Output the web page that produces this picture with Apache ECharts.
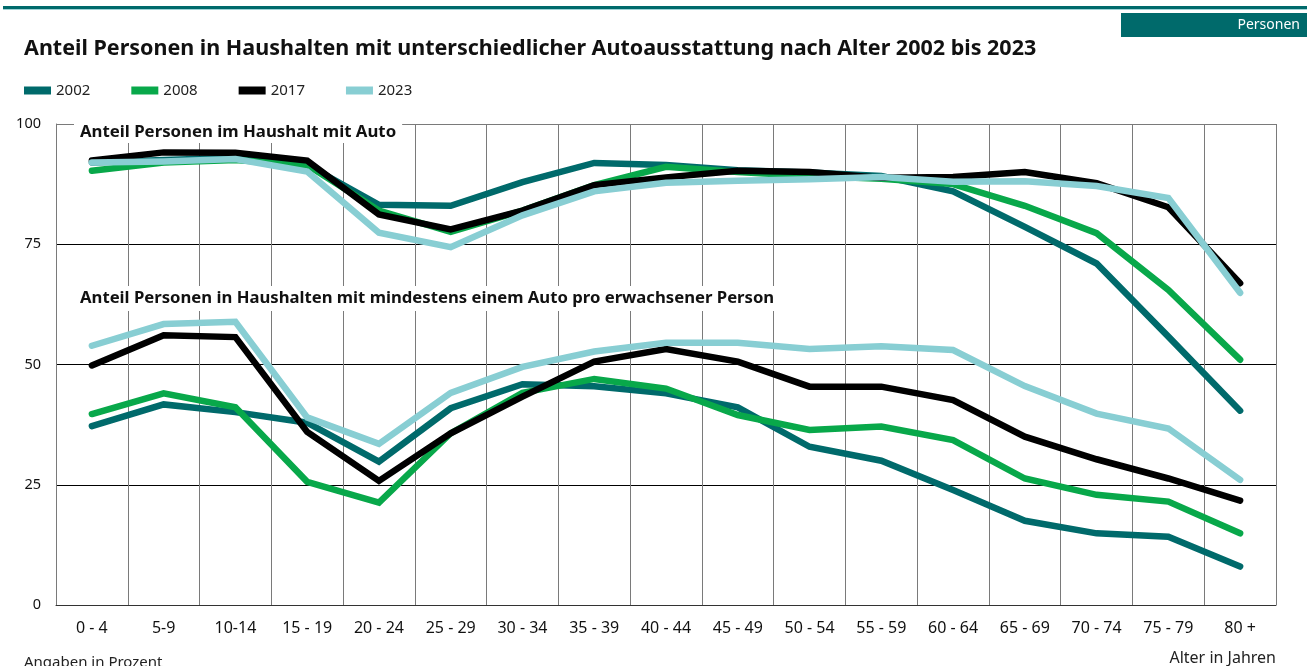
<!DOCTYPE html>
<html>
<head>
<meta charset="utf-8">
<script src="https://cdn.jsdelivr.net/npm/echarts@6/dist/echarts.min.js"></script>
<style>
html,body{margin:0;padding:0;background:#fff;}
#c{width:1307px;height:666px;}
</style>
</head>
<body>
<div id="c"></div>
<script>
const categories = ['0 - 4','5-9','10-14','15 - 19','20 - 24','25 - 29','30 - 34','35 - 39','40 - 44','45 - 49','50 - 54','55 - 59','60 - 64','65 - 69','70 - 74','75 - 79','80 +'];
const years = ['2002','2008','2017','2023'];
const yTicks = [0, 25, 50, 75, 100];

// Anteil Personen im Haushalt mit Auto
const auto2002 = [92, 92.5, 93, 91.5, 83.2, 83, 87.9, 91.9, 91.5, 90.4, 89.9, 89.2, 86, 78.6, 71, 55.8, 40.4];
const auto2008 = [90.3, 92, 92.5, 91.5, 82, 77.6, 82, 87.3, 91.1, 90, 89.2, 88.6, 87.5, 83, 77.3, 65.5, 51];
const auto2017 = [92.4, 94.1, 94, 92.4, 81.2, 78.1, 82, 87.3, 88.9, 90.3, 90, 88.8, 89, 90, 87.7, 82.7, 66.9];
const auto2023 = [92, 92.2, 92.7, 90.1, 77.4, 74.4, 81, 86, 87.8, 88.2, 88.5, 89, 88, 88.1, 87.1, 84.6, 64.9];

// Anteil Personen in Haushalten mit mindestens einem Auto pro erwachsener Person
const pro2002 = [37.2, 41.7, 40.1, 37.9, 29.8, 40.9, 45.9, 45.5, 44, 41.1, 32.9, 30, 23.9, 17.5, 14.9, 14.2, 8];
const pro2008 = [39.7, 44, 41.1, 25.6, 21.3, 35.7, 44.1, 47, 45, 39.5, 36.4, 37.1, 34.3, 26.3, 22.9, 21.5, 14.9];
const pro2017 = [49.8, 56.1, 55.7, 36, 25.8, 35.7, 43.3, 50.6, 53.2, 50.6, 45.4, 45.4, 42.6, 35, 30.3, 26.3, 21.7];
const pro2023 = [53.9, 58.4, 58.9, 39, 33.5, 44.1, 49.5, 52.7, 54.5, 54.5, 53.2, 53.8, 53, 45.5, 39.8, 36.7, 26];

const colors = {'2002':'#006a6b','2008':'#08a84a','2017':'#000000','2023':'#88ced3'};
const autoData = {'2002':auto2002,'2008':auto2008,'2017':auto2017,'2023':auto2023};
const proData = {'2002':pro2002,'2008':pro2008,'2017':pro2017,'2023':pro2023};

const FONT = 'Noto Sans';
const series = [];
years.forEach(y => {
  [autoData, proData].forEach(src => {
    series.push({
      name: y, type: 'line', data: src[y], symbol: 'none', smooth: false,
      lineStyle: {color: colors[y], width: 6.5, cap: 'round', join: 'miter'},
      itemStyle: {color: colors[y]}, z: 3
    });
  });
});

const chart = echarts.init(document.getElementById('c'));
chart.setOption({
  animation: false,
  textStyle: {fontFamily: FONT},
  grid: {left: 56, right: 31, top: 124, bottom: 61, containLabel: false},
  legend: {
    data: years, left: 19, top: 78, icon: 'rect', itemWidth: 27, itemHeight: 8,
    itemGap: 41, textStyle: {fontFamily: FONT, fontSize: 15, color: '#222'}, selectedMode: false
  },
  xAxis: {
    type: 'category', data: categories, boundaryGap: true,
    axisLine: {show: true, lineStyle: {color: '#333', width: 1}},
    axisTick: {show: false},
    axisLabel: {fontSize: 16, color: '#111', margin: 15, interval: 0, fontFamily: FONT},
    splitLine: {show: true, interval: 0, lineStyle: {color: '#7a7a7a', width: 1}}
  },
  yAxis: {
    type: 'value', min: yTicks[0], max: yTicks[yTicks.length-1], interval: 25,
    axisLine: {show: true, lineStyle: {color: '#7a7a7a'}},
    axisTick: {show: false},
    axisLabel: {fontSize: 14.5, color: '#111', margin: 15, fontFamily: FONT},
    splitLine: {show: true, lineStyle: {color: ['#333', '#000', '#000', '#000', '#7a7a7a'], width: 1}}
  },
  graphic: [
    {type: 'rect', shape: {x: 3, y: 6, width: 1304, height: 3}, style: {fill: '#006a6b'}},
    {type: 'rect', shape: {x: 3, y: 9, width: 1304, height: 1}, style: {fill: '#9fd3d6'}},
    {type: 'rect', shape: {x: 1121, y: 13, width: 186, height: 24}, style: {fill: '#006a6b'}},
    {type: 'text', x: 1300, y: 25, style: {text: 'Personen', fill: '#fff', font: '14px "' + FONT + '"', textAlign: 'right', textVerticalAlign: 'middle'}},
    {type: 'text', x: 24, y: 49, style: {text: 'Anteil Personen in Haushalten mit unterschiedlicher Autoausstattung nach Alter 2002 bis 2023', fill: '#111', font: 'bold 21.5px "' + FONT + '"', textVerticalAlign: 'middle'}},
    {type: 'text', x: 74, y: 122, z: 10, style: {text: 'Anteil Personen im Haushalt mit Auto', fill: '#111', font: 'bold 16.8px "' + FONT + '"', backgroundColor: '#fff', padding: [2, 6, 2, 6]}},
    {type: 'text', x: 74, y: 286, z: 10, style: {text: 'Anteil Personen in Haushalten mit mindestens einem Auto pro erwachsener Person', fill: '#111', font: 'bold 16.7px "' + FONT + '"', backgroundColor: '#fff', padding: [4, 4, 4, 6]}},
    {type: 'text', x: 24, y: 655, style: {text: 'Angaben in Prozent', fill: '#222', font: '15px "' + FONT + '"'}},
    {type: 'text', x: 1276, y: 650, style: {text: 'Alter in Jahren', fill: '#222', font: '16px "' + FONT + '"', textAlign: 'right'}}
  ],
  series: series
});
</script>
</body>
</html>
